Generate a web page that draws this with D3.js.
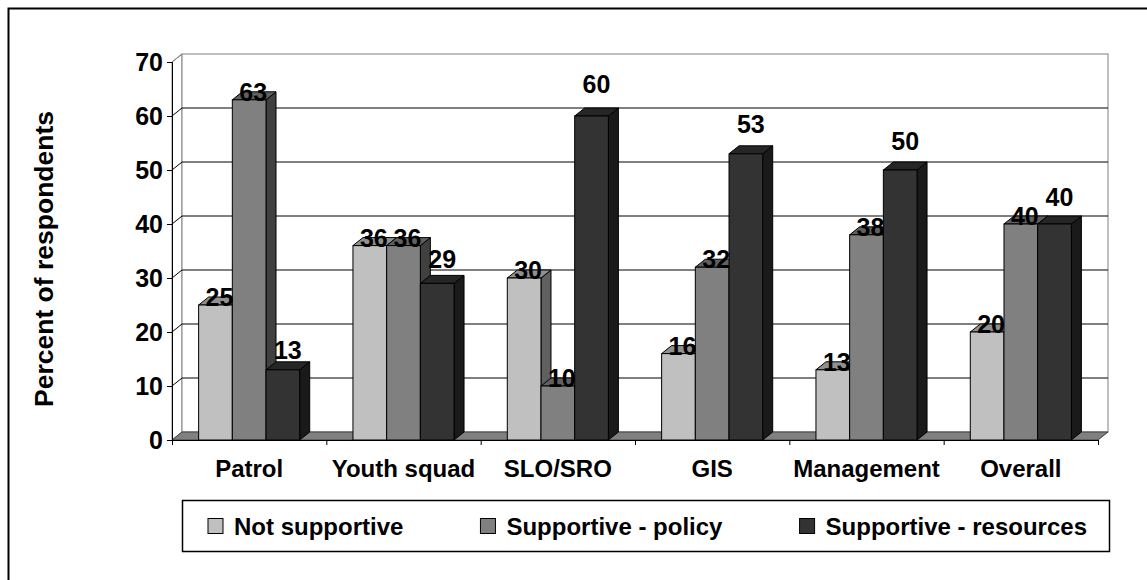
<!DOCTYPE html>
<html><head><meta charset="utf-8">
<script src="https://cdn.jsdelivr.net/npm/d3@7"></script>
<style>
html,body{margin:0;padding:0;background:#fff;}
text{font-family:"Liberation Sans",Arial,sans-serif;font-weight:bold;}
</style></head>
<body>
<svg id="chart" width="1147" height="580"></svg>
<script>
const categories = ["Patrol", "Youth squad", "SLO/SRO", "GIS", "Management", "Overall"];
const seriesNames = ["Not supportive", "Supportive - policy", "Supportive - resources"];
const notSupportive = [25, 36, 30, 16, 13, 20];
const supportivePolicy = [63, 36, 10, 32, 38, 40];
const supportiveResources = [13, 29, 60, 53, 50, 40];
const yTicks = [0, 10, 20, 30, 40, 50, 60, 70];
const yAxisTitle = "Percent of respondents";

const seriesValues = [notSupportive, supportivePolicy, supportiveResources];
const frontCol = ["#c0c0c0", "#808080", "#333333"];
const topCol = ["#909090", "#606060", "#262626"];
const sideCol = ["#606060", "#404040", "#1a1a1a"];

const svg = d3.select("#chart");
const FS = 24;
const pLeft = 172, pRight = 1098, pBottom = 440, pTop = 62;
const DX = 10, DY = -8;

const x0 = d3.scaleBand().domain(categories).range([pLeft, pRight]).paddingInner(0.345).paddingOuter(0.1725);
const x1 = d3.scaleBand().domain(d3.range(3)).range([0, x0.bandwidth()]);
const xCat = d3.scaleBand().domain(categories).range([pLeft, pRight]);
const y = d3.scaleLinear().domain([0, 70]).range([pBottom, pTop]);

// outer frame
svg.append("rect").attr("x", 8.5).attr("y", 8.5).attr("width", 1160).attr("height", 600)
  .attr("fill", "none").attr("stroke", "#000").attr("stroke-width", 2);

// walls
svg.append("polygon")
  .attr("points", [[pLeft, y(70)], [pLeft + DX, y(70) + DY], [pLeft + DX, pBottom + DY], [pLeft, pBottom]].join(" "))
  .attr("fill", "#fff").attr("stroke", "#808080");
svg.append("rect").attr("x", pLeft + DX).attr("y", y(70) + DY)
  .attr("width", pRight - pLeft).attr("height", pBottom - y(70))
  .attr("fill", "#fff").attr("stroke", "#808080");

// gridlines
yTicks.filter(v => v > 0 && v < 70).forEach(v => {
  svg.append("polyline")
    .attr("points", [[pLeft, y(v)], [pLeft + DX, y(v) + DY], [pRight + DX, y(v) + DY]].join(" "))
    .attr("fill", "none").attr("stroke", "#000").attr("stroke-width", 1);
});
svg.append("line").attr("x1", pLeft).attr("y1", y(70)).attr("x2", pLeft + DX).attr("y2", y(70) + DY)
  .attr("stroke", "#808080");

// floor
svg.append("polygon")
  .attr("points", [[pLeft, pBottom], [pRight, pBottom], [pRight + DX, pBottom + DY], [pLeft + DX, pBottom + DY]].join(" "))
  .attr("fill", "#808080").attr("stroke", "#404040").attr("stroke-width", 1);

// y axis
const yAxis = d3.axisLeft(y).tickValues(yTicks).tickSize(5).tickPadding(4);
const gy = svg.append("g").attr("transform", `translate(${pLeft},0)`).call(yAxis);
gy.select(".domain").attr("stroke", "#000");
gy.selectAll(".tick line").attr("stroke", "#000");
gy.selectAll("text").attr("font-size", 25).attr("fill", "#000")
  .style("font-family", "'Liberation Sans', Arial, sans-serif").style("font-weight", "bold");

// x axis
svg.append("line").attr("x1", pLeft).attr("x2", pRight).attr("y1", pBottom + 0.5).attr("y2", pBottom + 0.5).attr("stroke", "#000");
categories.forEach((c) => {
  const xx = xCat(c);
  svg.append("line").attr("x1", xx + 0.5).attr("x2", xx + 0.5).attr("y1", pBottom).attr("y2", pBottom + 5).attr("stroke", "#000");
});
svg.append("line").attr("x1", pRight + 0.5).attr("x2", pRight + 0.5).attr("y1", pBottom).attr("y2", pBottom + 5).attr("stroke", "#000");
svg.selectAll(".catlab").data(categories).enter().append("text")
  .attr("x", d => xCat(d) + xCat.bandwidth() / 2).attr("y", 477)
  .attr("text-anchor", "middle").attr("font-size", FS).text(d => d);

// bars
const gBars = svg.append("g");
categories.forEach((c, ci) => {
  for (let s = 0; s < 3; s++) {
    const v = seriesValues[s][ci];
    const bx = x0(c) + x1(s), w = x1.bandwidth();
    const yt = y(v), yb = y(0);
    const g = gBars.append("g");
    g.append("polygon").attr("points", [[bx + w, yt], [bx + w + DX, yt + DY], [bx + w + DX, yb + DY], [bx + w, yb]].join(" "))
      .attr("fill", sideCol[s]).attr("stroke", "#000").attr("stroke-width", 1).attr("stroke-linejoin", "round");
    g.append("polygon").attr("points", [[bx, yt], [bx + DX, yt + DY], [bx + w + DX, yt + DY], [bx + w, yt]].join(" "))
      .attr("fill", topCol[s]).attr("stroke", "#000").attr("stroke-width", 1).attr("stroke-linejoin", "round");
    g.append("rect").attr("x", bx).attr("y", yt).attr("width", w).attr("height", yb - yt)
      .attr("fill", frontCol[s]).attr("stroke", "#000").attr("stroke-width", 1);
  }
});
// value labels
categories.forEach((c, ci) => {
  for (let s = 0; s < 3; s++) {
    const v = seriesValues[s][ci];
    const bx = x0(c) + x1(s), w = x1.bandwidth();
    const yt = y(v);
    const lx = bx + w / 2 + (s === 2 ? 5 : 4);
    const ly = s === 2 ? yt - (8 + 0.25 * v) : yt + 1;
    svg.append("text").attr("x", lx).attr("y", ly).attr("text-anchor", "middle")
      .attr("font-size", 25).text(v);
  }
});

// y axis title
svg.append("text").attr("transform", `translate(53,259) rotate(-90)`)
  .attr("text-anchor", "middle").attr("font-size", 26.5).text(yAxisTitle);

// legend
const lgX = 182, lgY = 500, lgW = 927, lgH = 51;
svg.append("rect").attr("x", lgX + 0.5).attr("y", lgY + 0.5).attr("width", lgW).attr("height", lgH)
  .attr("fill", "#fff").attr("stroke", "#000").attr("stroke-width", 1.5);
const lg = svg.append("g");
const items = seriesNames.map((n, i) => {
  const g = lg.append("g");
  g.append("rect").attr("x", 0).attr("y", -8).attr("width", 15).attr("height", 15)
    .attr("fill", frontCol[i]).attr("stroke", "#000");
  const t = g.append("text").attr("x", 26).attr("y", 0).attr("dy", "0.35em").attr("font-size", FS).text(n);
  return {g, w: 26 + t.node().getComputedTextLength()};
});
const totalW = d3.sum(items, d => d.w);
const gap = (lgW - 48 - totalW) / 2;
let cx = lgX + 26;
items.forEach(it => { it.g.attr("transform", `translate(${cx},${lgY + lgH / 2 + 1})`); cx += it.w + gap; });
</script>
</body></html>
